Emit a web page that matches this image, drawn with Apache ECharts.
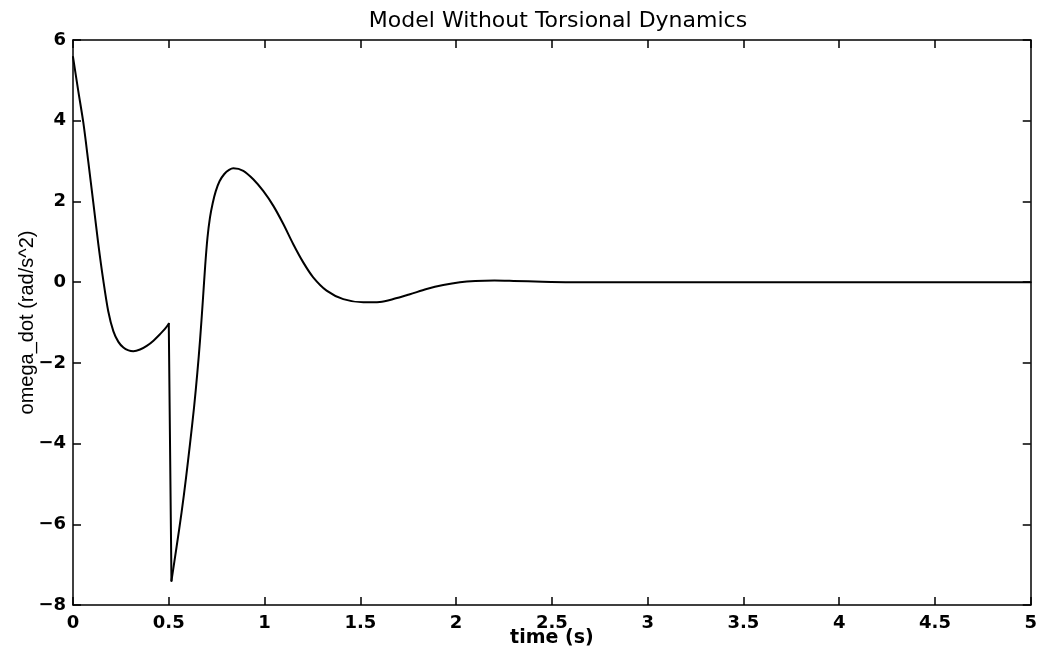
<!DOCTYPE html>
<html><head><meta charset="utf-8">
<script src="https://cdn.jsdelivr.net/npm/echarts@6/dist/echarts.min.js"></script>
<style>html,body{margin:0;padding:0;background:#fff}#c{width:1040px;height:659px}</style>
</head><body><div id="c"></div>
<script>
const titleText = 'Model Without Torsional Dynamics';
const xName = 'time (s)';
const yName = 'omega_dot (rad/s^2)';
// segment before the step at t = 0.5 s
const timeBefore = [0, 0.027, 0.054, 0.080, 0.106, 0.132, 0.158, 0.184, 0.211, 0.237, 0.263, 0.29, 0.315, 0.35, 0.385, 0.42, 0.454, 0.48, 0.5];
const valueBefore = [5.58, 4.75, 3.95, 2.98, 1.97, 0.95, 0.05, -0.72, -1.22, -1.48, -1.62, -1.69, -1.71, -1.67, -1.58, -1.45, -1.29, -1.16, -1.03];
// segment after the step
const timeAfter = [0.514, 0.541, 0.567, 0.590, 0.611, 0.632, 0.649, 0.663, 0.678, 0.690, 0.702, 0.715, 0.729, 0.745, 0.765, 0.79, 0.815, 0.837, 0.889, 0.941, 0.993,
  1.046, 1.098, 1.150, 1.202, 1.254, 1.324, 1.411, 1.516, 1.602, 1.672, 1.759, 1.846, 1.933, 2.02, 2.1, 2.2, 2.3, 2.45, 2.6, 3, 3.5, 4, 4.5, 5];
const valueAfter = [-7.40, -6.55, -5.70, -4.85, -4.0, -3.1, -2.25, -1.45, -0.45, 0.4, 1.1, 1.6, 1.95, 2.25, 2.5, 2.68, 2.78, 2.82, 2.76, 2.55, 2.26,
  1.89, 1.44, 0.94, 0.49, 0.12, -0.21, -0.42, -0.50, -0.49, -0.42, -0.30, -0.17, -0.07, 0.0, 0.03, 0.04, 0.03, 0.01, 0.0, 0.0, 0.0, 0.0, 0.0, 0.0];
const xRange = [0, 5, 0.5];
const yRange = [-8, 6, 2];

const ptsBefore = timeBefore.map((t, i) => [t, valueBefore[i]]);
const ptsAfter = timeAfter.map((t, i) => [t, valueAfter[i]]);
const ptsStep = [ptsBefore[ptsBefore.length - 1], ptsAfter[0]];
const axisColor = '#000';
const tickFont = {color: '#000', fontFamily: 'DejaVu Sans', fontWeight: 'bold', fontSize: 18};
const lineStyle = {color: axisColor, width: 1.5};
function baseAxis(extra) {
  return Object.assign({
    type: 'value',
    axisLine: {show: true, onZero: false, lineStyle: lineStyle},
    axisTick: {show: true, inside: true, length: 8, lineStyle: lineStyle},
    splitLine: {show: false}
  }, extra);
}
const minus = v => String(v).replace('-', '\u2212');
const curve = (data, smooth) => ({
  type: 'line', data: data, xAxisIndex: 0, yAxisIndex: 0,
  showSymbol: false, symbol: 'none', smooth: smooth,
  lineStyle: {color: '#000', width: 2, cap: 'round', join: 'round'}
});
const chart = echarts.init(document.getElementById('c'), null, {renderer: 'canvas'});
chart.setOption({
  animation: false,
  backgroundColor: '#fff',
  title: {
    text: titleText, left: 553, top: 5, textAlign: 'center',
    textStyle: {color: '#000', fontFamily: 'DejaVu Sans', fontWeight: 'normal', fontSize: 22}
  },
  grid: {left: 73, right: 9, top: 40, bottom: 54, containLabel: false},
  xAxis: [
    baseAxis({min: xRange[0], max: xRange[1], interval: xRange[2], position: 'bottom',
      axisLabel: Object.assign({margin: 9, formatter: minus}, tickFont),
      name: xName, nameLocation: 'middle', nameGap: 24, nameMoveOverlap: false,
      nameTextStyle: {color: '#000', fontFamily: 'DejaVu Sans', fontWeight: 'bold', fontSize: 19, verticalAlign: 'top'}}),
    baseAxis({min: xRange[0], max: xRange[1], interval: xRange[2], position: 'top', axisLabel: {show: false}})
  ],
  yAxis: [
    baseAxis({min: yRange[0], max: yRange[1], interval: yRange[2], position: 'left',
      axisLabel: Object.assign({margin: 7, formatter: minus}, tickFont),
      name: yName, nameLocation: 'middle', nameGap: 36, nameMoveOverlap: false,
      nameTextStyle: {color: '#000', fontFamily: 'Liberation Sans', fontSize: 20}}),
    baseAxis({min: yRange[0], max: yRange[1], interval: yRange[2], position: 'right', axisLabel: {show: false}})
  ],
  series: [curve(ptsBefore, 0.3), curve(ptsStep, false), curve(ptsAfter, 0.3)]
});
</script></body></html>
